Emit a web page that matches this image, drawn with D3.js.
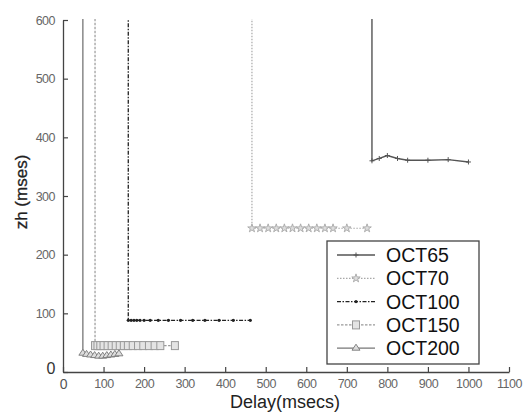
<!DOCTYPE html>
<html><head><meta charset="utf-8">
<script src="https://cdn.jsdelivr.net/npm/d3@7"></script>
<style>body{margin:0;background:#fff}svg{display:block}</style>
</head><body>
<script>
// Data (x = Delay msecs, y = zh msecs); first point above the plot top (clipped)
const seriesNames = ["OCT65","OCT70","OCT100","OCT150","OCT200"];
const oct65X = [762, 762, 780, 800, 825, 850, 900, 950, 1000];
const oct65Y = [2000, 360, 364, 369, 364, 361, 361, 362, 358];
const oct70X = [466, 466, 486, 506, 526, 546, 566, 586, 606, 626, 646, 666, 700, 750];
const oct70Y = [2000, 245, 245, 245, 245, 245, 245, 245, 245, 245, 245, 245, 245, 245];
const oct100X = [161, 161, 168, 175, 182, 190, 200, 215, 235, 260, 290, 320, 350, 385, 420, 462];
const oct100Y = [2000, 88, 88, 88, 88, 88, 88, 88, 88, 88, 88, 88, 88, 88, 88, 88];
const oct150X = [79, 79, 85, 92, 100, 110, 120, 130, 140, 150, 160, 172, 185, 198, 212, 226, 240, 276];
const oct150Y = [2000, 45, 45, 45, 45, 45, 45, 45, 45, 45, 45, 45, 45, 45, 45, 45, 45, 45];
const oct200X = [49, 49, 58, 68, 78, 88, 98, 108, 118, 128, 138];
const oct200Y = [2000, 32, 30, 29, 28, 27, 27, 28, 29, 30, 31];
const xTicks = [0,100,200,300,400,500,600,700,800,900,1000,1100];
const yTicks = [0,100,200,300,400,500,600];

const W = 524, H = 414;
const svg = d3.select("body").append("svg").attr("width", W).attr("height", H);
const x = d3.scaleLinear().domain([0,1100]).range([63,509]);
const y = d3.scaleLinear().domain([0,600]).range([372,20]);

svg.append("defs").append("clipPath").attr("id","clip")
  .append("rect").attr("x",63).attr("y",19).attr("width",446).attr("height",353);

const styles = [
  {color:"#555", dash:null, marker:"plus", w:1.4},
  {color:"#a8a8a8", dash:"1.5,1.5", marker:"star", w:1.2},
  {color:"#222", dash:"4,1.5,1.5,1.5", marker:"dot", w:1.3},
  {color:"#999", dash:"2.5,1.5", marker:"square", w:1.2},
  {color:"#777", dash:null, marker:"triangle", w:1.3}
];
const data = [
  d3.zip(oct65X, oct65Y), d3.zip(oct70X, oct70Y), d3.zip(oct100X, oct100Y),
  d3.zip(oct150X, oct150Y), d3.zip(oct200X, oct200Y)
];

// axes
const axisColor = "#444";
const fmt = d3.format("d");
const gx = svg.append("g").attr("transform","translate(0,372)")
  .call(d3.axisBottom(x).tickValues(xTicks).tickFormat(fmt).tickSizeInner(-5).tickSizeOuter(0).tickPadding(7));
const gy = svg.append("g").attr("transform","translate(63,0)")
  .call(d3.axisLeft(y).tickValues(yTicks).tickFormat(fmt).tickSizeInner(-5).tickSizeOuter(0).tickPadding(8));
[gx, gy].forEach(g => {
  g.select(".domain").attr("stroke", axisColor).attr("stroke-width",1.3);
  g.selectAll(".tick line").attr("stroke", axisColor).attr("stroke-width",1.2);
  g.selectAll(".tick text").attr("fill","#666").attr("font-family","Liberation Sans Narrow, Liberation Sans, Arial")
    .attr("font-size",12.5).attr("letter-spacing","-0.5");
});
gy.selectAll(".tick text").filter(d => d === 0).attr("font-size",16).attr("fill","#333").attr("dy","0.1em");
gx.selectAll(".tick text").filter(d => d === 0).attr("font-size",14).attr("fill","#555");

function drawMarker(g, type, cx, cy, color) {
  if (type === "plus") {
    g.append("path").attr("d",`M${cx-2.5},${cy}H${cx+2.5}M${cx},${cy-2.5}V${cy+2.5}`)
      .attr("stroke",color).attr("stroke-width",1).attr("fill","none");
  } else if (type === "star") {
    g.append("path").attr("d", d3.symbol(d3.symbolStar, 22)()).attr("transform",`translate(${cx},${cy})`)
      .attr("fill","#ddd").attr("stroke",color).attr("stroke-width",0.9);
  } else if (type === "dot") {
    g.append("circle").attr("cx",cx).attr("cy",cy).attr("r",1.6).attr("fill",color);
  } else if (type === "square") {
    g.append("rect").attr("x",cx-3.5).attr("y",cy-4).attr("width",7).attr("height",8)
      .attr("fill","#e4e4e4").attr("stroke",color).attr("stroke-width",1);
  } else if (type === "triangle") {
    g.append("path").attr("d",`M${cx},${cy-4}L${cx+4},${cy+2}L${cx-4},${cy+2}Z`)
      .attr("fill","#ddd").attr("stroke",color).attr("stroke-width",0.9);
  }
}

const plot = svg.append("g").attr("clip-path","url(#clip)");
const line = d3.line().x(d => x(d[0])).y(d => y(d[1]));
data.forEach((pts, i) => {
  const s = styles[i];
  plot.append("path").datum(pts).attr("d", line).attr("fill","none")
    .attr("stroke", s.color).attr("stroke-width", s.w).attr("stroke-dasharray", s.dash);
  const mg = plot.append("g");
  pts.forEach(p => { if (p[1] <= 600) drawMarker(mg, s.marker, x(p[0]), y(p[1]), s.color); });
});

// axis labels
svg.append("text").attr("x",285).attr("y",408).attr("text-anchor","middle")
  .attr("font-family","Liberation Sans, Arial").attr("font-size",18).attr("fill","#222")
  .text("Delay(msecs)");
svg.append("text").attr("transform","translate(27,192) rotate(-90)").attr("text-anchor","middle")
  .attr("font-family","Liberation Sans, Arial").attr("font-size",17).attr("fill","#222")
  .attr("stroke","#222").attr("stroke-width",0.3)
  .text("zh (mses)");

// legend
const lg = svg.append("g");
lg.append("rect").attr("x",327).attr("y",241).attr("width",152).attr("height",123)
  .attr("fill","#fff").attr("stroke","#444").attr("stroke-width",1.3);
seriesNames.forEach((name, i) => {
  const s = styles[i];
  const ly = 255 + i * 23.3;
  lg.append("line").attr("x1",337).attr("x2",375).attr("y1",ly).attr("y2",ly)
    .attr("stroke",s.color).attr("stroke-width",s.w).attr("stroke-dasharray",s.dash);
  drawMarker(lg, s.marker, 356, ly, s.color);
  lg.append("text").attr("x",386).attr("y",ly).attr("dy","0.36em")
    .attr("font-family","Liberation Sans, Arial").attr("font-size",19.5).attr("fill","#111").text(name);
});
</script>
</body></html>
